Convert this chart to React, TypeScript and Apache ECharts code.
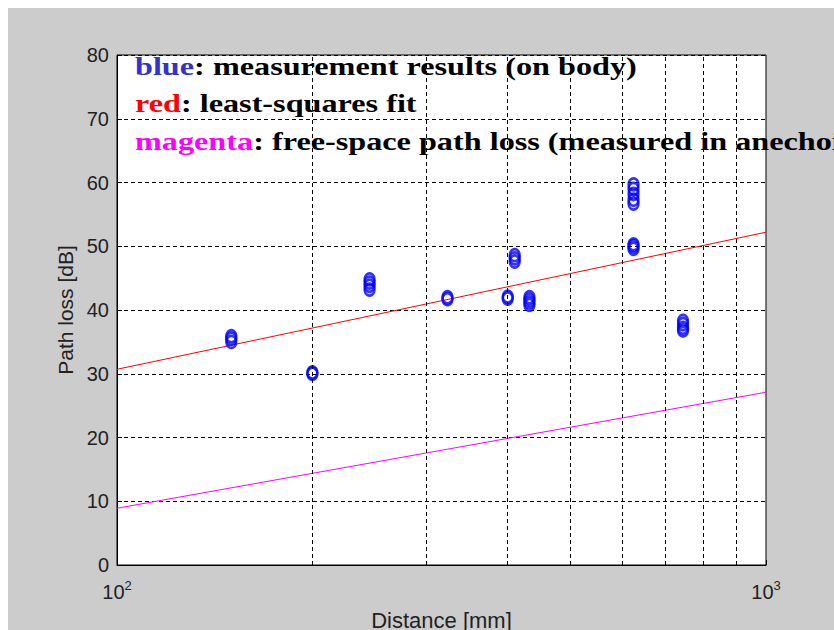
import React, { useEffect, useRef } from "react";
import * as echarts from "echarts";

// Measurement results (distance mm, path loss dB)
const measDistance = [150, 150, 150, 200, 200, 245, 245, 245, 245, 323, 323, 400, 400, 410, 410, 410, 432, 432, 432, 432, 625, 625, 625, 625, 625, 625, 625, 625, 745, 745, 745, 745];
const measLoss = [35.0, 35.5, 35.9, 30.0, 30.2, 43.2, 43.8, 44.3, 44.8, 41.7, 42.0, 41.8, 42.1, 47.6, 48.1, 48.6, 40.8, 41.2, 41.6, 42.0, 49.6, 50.0, 50.3, 56.7, 57.3, 58.2, 59.0, 59.7, 36.8, 37.2, 37.8, 38.3];

// Least-squares fit line endpoints
const fitDistance = [100, 1000];
const fitLoss = [30.7, 52.2];

// Free-space path loss endpoints
const freeDistance = [100, 1000];
const freeLoss = [8.9, 27.1];

// Minor log grid lines
const minorGrid = [200, 300, 400, 500, 600, 700, 800, 900];

const yTicks = { min: 0, max: 80, interval: 10 };

const legendLines = [
  { key: "blue", word: "blue", rest: ": measurement results (on body)" },
  { key: "red", word: "red", rest: ": least-squares fit" },
  { key: "mag", word: "magenta", rest: ": free-space path loss (measured in anechoic chamber)" },
];

export default function App() {
  const ref = useRef<HTMLDivElement>(null);
  useEffect(() => {
    if (!ref.current) return;
    const chart = echarts.init(ref.current, null, { renderer: "svg" });
    const serif = "'Liberation Serif', 'Times New Roman', serif";
    const sans = "'Liberation Sans', Arial, sans-serif";
    const baseRich = { fontFamily: serif, fontWeight: "bold" as const, fontSize: 26 };
    const dash = [4, 3];
    chart.setOption({
      animation: false,
      backgroundColor: "#cccccc",
      grid: {
        left: 109,
        top: 47,
        right: 68,
        bottom: 65,
        outerBoundsMode: "none",
        containLabel: false,
        show: true,
        backgroundColor: "#ffffff",
        borderColor: "#000000",
        borderWidth: 1,
      },
      xAxis: {
        type: "log",
        logBase: 10,
        min: 100,
        max: 1000,
        name: "Distance [mm]",
        nameLocation: "middle",
        nameGap: 44,
        nameTextStyle: { fontFamily: sans, fontSize: 22, color: "#222" },
        axisLine: { lineStyle: { color: "#000" } },
        axisTick: { inside: true, length: 5, lineStyle: { color: "#000" } },
        axisLabel: {
          margin: 14,
          formatter: (v: number) => `10{s|${Math.round(Math.log10(v))}}`,
          fontFamily: sans,
          fontSize: 20,
          color: "#222",
          rich: { s: { fontFamily: sans, fontSize: 13, color: "#222", verticalAlign: "top", padding: [0, 0, 12, 0] } },
        },
        splitLine: { show: false },
      },
      yAxis: {
        type: "value",
        min: yTicks.min,
        max: yTicks.max,
        interval: yTicks.interval,
        name: "Path loss [dB]",
        nameLocation: "middle",
        nameGap: 41,
        nameTextStyle: { fontFamily: sans, fontSize: 21, color: "#222" },
        axisLine: { lineStyle: { color: "#000" } },
        axisTick: { inside: true, length: 5, lineStyle: { color: "#000" } },
        axisLabel: { margin: 8, fontFamily: sans, fontSize: 20, color: "#222" },
        splitLine: { show: true, lineStyle: { color: "#000", type: dash, width: 1 } },
      },
      series: [
        {
          type: "line",
          data: [],
          z: 1,
          silent: true,
          markLine: {
            silent: true,
            symbol: "none",
            label: { show: false },
            lineStyle: { color: "#000", type: dash, width: 1 },
            data: minorGrid.map((v) => ({ xAxis: v })),
          },
        },
        {
          type: "line",
          data: freeDistance.map((d, i) => [d, freeLoss[i]]),
          showSymbol: false,
          lineStyle: { color: "#ff00ff", width: 1 },
          z: 3,
        },
        {
          type: "line",
          data: fitDistance.map((d, i) => [d, fitLoss[i]]),
          showSymbol: false,
          lineStyle: { color: "#ff0000", width: 1 },
          z: 3,
        },
        {
          type: "scatter",
          data: measDistance.map((d, i) => [d, measLoss[i]]),
          symbol: "circle",
          symbolSize: [10, 12],
          itemStyle: { color: "transparent", borderColor: "#0000ff", borderWidth: 2.5 },
          z: 4,
        },
      ],
      graphic: legendLines.map((l, i) => ({
        type: "text",
        x: 127,
        y: 58 + i * 37.5,
        scaleX: 1.24,
        z: 10,
        style: {
          text: `{${l.key}|${l.word}}{k|${l.rest}}`,
          verticalAlign: "middle",
          ...baseRich,
          fill: "#000",
          rich: {
            blue: { ...baseRich, fill: "#3333cc" },
            red: { ...baseRich, fill: "#ff0000" },
            mag: { ...baseRich, fill: "#ff00ff" },
            k: { ...baseRich, fill: "#000000" },
          },
        },
      })),
    });
    return () => chart.dispose();
  }, []);
  return (
    <div
      ref={ref}
      style={{ position: "absolute", left: 8, top: 8, width: 826, height: 622 }}
    />
  );
}
